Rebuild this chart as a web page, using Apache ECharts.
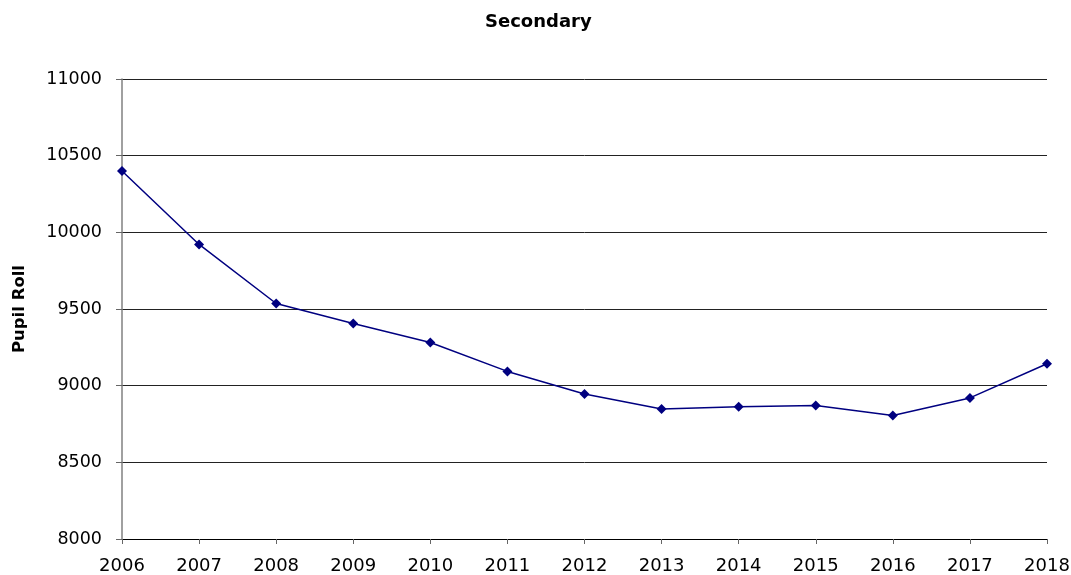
<!DOCTYPE html>
<html>
<head>
<meta charset="utf-8">
<script src="https://cdn.jsdelivr.net/npm/echarts@6/dist/echarts.min.js"></script>
<style>
  html, body { margin: 0; padding: 0; background: #fff; }
  #chart { width: 1071px; height: 575px; }
</style>
</head>
<body>
<div id="chart"></div>
<script>
// Secondary school pupil roll by year
const years = ['2006', '2007', '2008', '2009', '2010', '2011', '2012', '2013', '2014', '2015', '2016', '2017', '2018'];
const pupilRoll = [10400, 9921, 9536, 9406, 9282, 9093, 8946, 8848, 8863, 8871, 8806, 8920, 9143];
const yTicks = { min: 8000, max: 11000, interval: 500 };

const chart = echarts.init(document.getElementById('chart'), null, { renderer: 'canvas' });
const font = '"DejaVu Sans", Verdana, sans-serif';

chart.setOption({
  animation: false,
  backgroundColor: '#ffffff',
  title: {
    text: 'Secondary',
    left: 480,
    top: 8,
    textStyle: { fontFamily: font, fontSize: 18, fontWeight: 'bold', color: '#000' }
  },
  grid: { left: 122, right: 24, top: 79, bottom: 36, containLabel: false, outerBoundsMode: 'none' },
  xAxis: {
    type: 'category',
    data: years,
    boundaryGap: false,
    axisLine: { lineStyle: { color: '#000', width: 1 } },
    axisTick: { show: true, length: 5, alignWithLabel: true, lineStyle: { color: '#666' } },
    axisLabel: { fontFamily: font, fontSize: 18, color: '#000', margin: 18 },
    splitLine: { show: false }
  },
  yAxis: {
    type: 'value',
    min: yTicks.min,
    max: yTicks.max,
    interval: yTicks.interval,
    name: 'Pupil Roll',
    nameLocation: 'middle',
    nameGap: 94,
    nameRotate: 90,
    nameTextStyle: { fontFamily: font, fontSize: 16.5, fontWeight: 'bold', color: '#000' },
    axisLine: { show: true, lineStyle: { color: '#808080', width: 1.5 } },
    axisTick: { show: true, length: 6, lineStyle: { color: '#666' } },
    axisLabel: {
      fontFamily: font, fontSize: 17.5, color: '#000', margin: 20,
      formatter: function (v) { return String(v); }
    },
    splitLine: { show: true, lineStyle: { color: '#222', width: 1 } }
  },
  series: [{
    type: 'line',
    data: pupilRoll,
    symbol: 'diamond',
    symbolSize: 10,
    lineStyle: { color: '#000080', width: 1.5 },
    itemStyle: { color: '#000080' }
  }]
});
</script>
</body>
</html>
